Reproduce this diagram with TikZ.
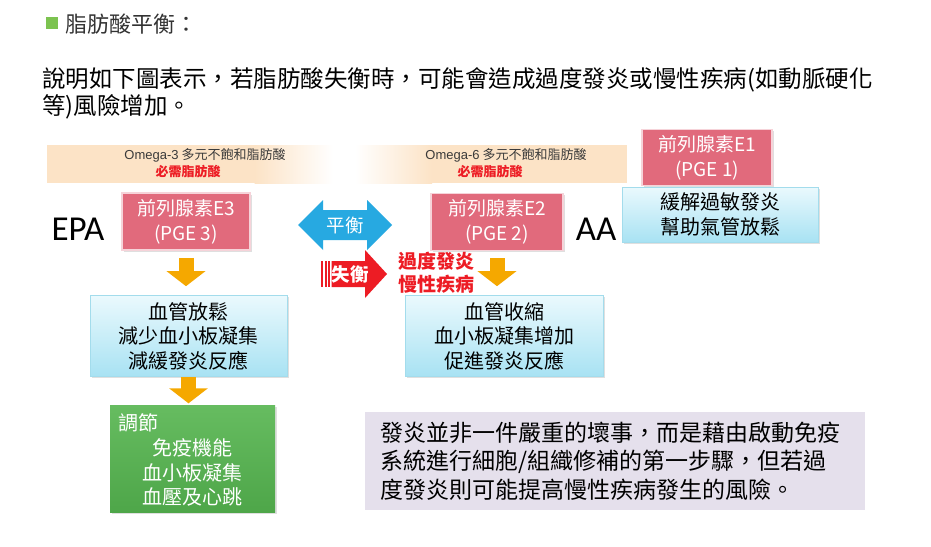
\documentclass[tikz,border=0pt]{standalone}
\usepackage{fontspec}
\setmainfont{Noto Sans CJK TC}
\newfontfamily\carl{Carlito}
\newfontfamily\lsans{Liberation Sans}
\usetikzlibrary{arrows.meta,shadows}
\definecolor{pinkc}{HTML}{E16A7C}
\definecolor{pinkedge}{HTML}{F6D3D9}
\definecolor{bluetop}{HTML}{EAF9FD}
\definecolor{bluebot}{HTML}{A8E2F3}
\definecolor{blueedge}{HTML}{A3DCEC}
\definecolor{greentop}{HTML}{66BC60}
\definecolor{greenbot}{HTML}{4EA649}
\definecolor{lavc}{HTML}{E5E0EC}
\definecolor{peach}{HTML}{FCE3C6}
\definecolor{orangec}{HTML}{F5A800}
\definecolor{balblue}{HTML}{27A9E1}
\definecolor{redc}{HTML}{ED1C24}
\definecolor{bulletc}{HTML}{7CC350}
\definecolor{titlec}{HTML}{333333}
\definecolor{graytext}{HTML}{3A3A3A}
\tikzset{
  boxshadow/.style={drop shadow={opacity=0.25,shadow xshift=1.5pt,shadow yshift=-1.5pt}},
  pinkbox/.style={boxshadow,fill=pinkc,draw=pinkedge,line width=1.5pt,text=white,align=center,
    inner sep=0pt,font=\fontsize{19}{25}\selectfont},
  bluebox/.style={boxshadow,top color=bluetop,bottom color=bluebot,draw=blueedge,line width=0.6pt,
    align=center,inner sep=0pt,font=\fontsize{20}{24.5}\selectfont,text=black},
  orangearr/.style={orangec,line width=15pt,-{Triangle[width=38pt,length=15pt]}},
  omegatxt/.style={inner sep=0pt,font=\fontsize{13}{13}\selectfont,text=graytext},
  essential/.style={inner sep=0pt,font=\bfseries\fontsize{13}{13}\selectfont,text=redc},
}
\begin{document}
\begin{tikzpicture}[x=1pt,y=-1pt]
\useasboundingbox (0,0) rectangle (931,546);
\fill[white] (0,0) rectangle (931,546);

% title
\node[fill=bulletc,minimum size=12pt,inner sep=0pt] (bullet) at (52,23) {};
\node[anchor=west,inner sep=0pt,text=titlec,font=\fontsize{22}{22}\selectfont] (title) at (65,24) {脂肪酸平衡：};

% paragraph
\node[anchor=west,inner sep=0pt,font=\fontsize{23.5}{28}\selectfont] (p1) at (42,80)
  {說明如下圖表示，若脂肪酸失衡時，可能會造成過度發炎或慢性疾病(如動脈硬化};
\node[anchor=west,inner sep=0pt,font=\fontsize{23.5}{28}\selectfont] (p2) at (42,107)
  {等)風險增加。};

% omega bands
\fill[peach] (47,145) rectangle (255,183);
\shade[left color=peach,right color=white] (254.5,145) rectangle (333,183);
\shade[left color=white,right color=peach] (355,145) rectangle (432,183);
\fill[peach] (431.5,145) rectangle (627,183);
\node[omegatxt] (o3) at (205,155) {{\lsans Omega-3} 多元不飽和脂肪酸};
\node[essential] (e3) at (188,172) {必需脂肪酸};
\node[omegatxt] (o6) at (506,155) {{\lsans Omega-6} 多元不飽和脂肪酸};
\node[essential] (e6) at (490,172) {必需脂肪酸};

% PGE1 group
\node[pinkbox,minimum width=130pt,minimum height=56pt] (pge1) at (707,157.5) {前列腺素E1\\(PGE 1)};
\node[bluebox,minimum width=196pt,minimum height=55pt] (b1) at (720,214.5) {緩解過敏發炎\\幫助氣管放鬆};

% EPA / AA
\node[inner sep=0pt,font=\carl\fontsize{35}{35}\selectfont] (epa) at (78,229) {EPA};
\node[inner sep=0pt,font=\carl\fontsize{35}{35}\selectfont] (aa) at (596,229) {AA};

% PGE3 / PGE2
\node[pinkbox,minimum width=128pt,minimum height=57pt] (pge3) at (186,221.5) {前列腺素E3\\(PGE 3)};
\node[pinkbox,minimum width=132pt,minimum height=57pt] (pge2) at (497,222) {前列腺素E2\\(PGE 2)};

% balance arrow
\fill[balblue] (298,225) -- (323,200) -- (323,210) -- (367,210) -- (367,200) -- (392,225)
  -- (367,250) -- (367,240) -- (323,240) -- (323,250) -- cycle;
\node[inner sep=0pt,text=white,font=\fontsize{18.5}{18.5}\selectfont] (bal) at (345,225) {平衡};

% imbalance arrow
\fill[redc] (321,261) rectangle (323,287);
\fill[redc] (324.5,261) rectangle (326.5,287);
\fill[redc] (328,261) rectangle (330,287);
\fill[redc] (331.5,261) -- (365,261) -- (365,250) -- (387,274) -- (365,298) -- (365,287) -- (331.5,287) -- cycle;
\node[inner sep=0pt,text=white,font=\bfseries\fontsize{18.5}{18.5}\selectfont] (imb) at (350,274) {失衡};
\node[inner sep=0pt,text=redc,align=center,font=\bfseries\fontsize{19}{23}\selectfont] (over) at (436,273) {過度發炎\\慢性疾病};

% effect boxes
\node[bluebox,minimum width=197pt,minimum height=81pt] (lb) at (188.5,336) {血管放鬆\\減少血小板凝集\\減緩發炎反應};
\node[bluebox,minimum width=198pt,minimum height=81pt] (rb) at (504,336) {血管收縮\\血小板凝集增加\\促進發炎反應};

% green box
\node[boxshadow,top color=greentop,bottom color=greenbot,minimum width=165pt,minimum height=107pt,inner sep=0pt] (gb) at (192.5,459) {};
\node[anchor=west,inner sep=0pt,text=white,font=\fontsize{20}{20}\selectfont] (tj) at (118,423) {調節};
\node[inner sep=0pt,text=white,align=center,font=\fontsize{20}{24.5}\selectfont] (gt) at (192.5,472.5) {免疫機能\\血小板凝集\\血壓及心跳};

% orange arrows
\draw[orangearr,shorten <=7pt,shorten >=9pt] (pge3.south) -- (pge3.south |- lb.north);
\draw[orangearr,shorten <=7pt,shorten >=9pt] (pge2.south) -- (pge2.south |- rb.north);
\draw[orangearr,shorten <=0.5pt,shorten >=2pt] (lb.south) -- (lb.south |- gb.north);

% lavender note
\node[fill=lavc,minimum width=500pt,minimum height=98pt,inner sep=0pt] (lav) at (615,461) {};
\node[anchor=west,inner sep=0pt,align=left,font=\fontsize{23}{28.5}\selectfont] (lavt) at (380,461)
  {發炎並非一件嚴重的壞事，而是藉由啟動免疫\\系統進行細胞/組織修補的第一步驟，但若過\\度發炎則可能提高慢性疾病發生的風險。};
\end{tikzpicture}
\end{document}
